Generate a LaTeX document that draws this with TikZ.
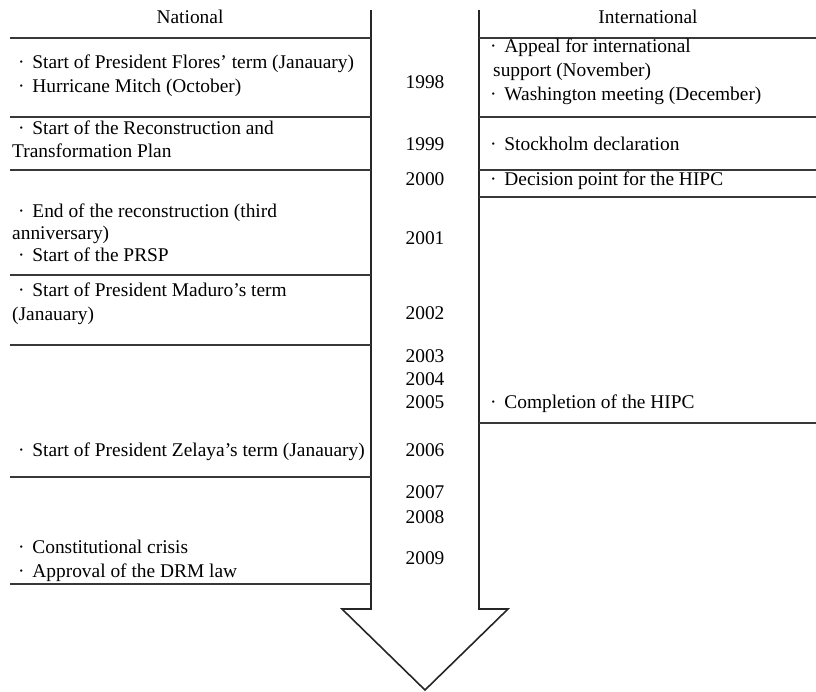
\documentclass[tikz,border=0pt]{standalone}
\usepackage{fontspec}
\setmainfont{Liberation Serif}
\newcommand{\bul}{\textperiodcentered\hspace{0.4em}}
\begin{document}
\begin{tikzpicture}[x=1pt,y=-1pt,
  txt/.style={anchor=mid west, inner sep=0pt, font=\fontsize{19.4}{24}\selectfont},
  hdr/.style={anchor=mid, inner sep=0pt, font=\fontsize{19.4}{24}\selectfont},
  yr/.style={anchor=mid, inner sep=0pt, font=\fontsize{19.4}{24}\selectfont},
  rule/.style={line width=1.6pt, draw=black!78},
  arrowline/.style={line width=1.6pt, draw=black!85, line join=miter}]
\useasboundingbox (0,0) rectangle (816,691);

% big arrow (time axis)
\coordinate (a1) at (371,10);
\coordinate (a2) at (371,609);
\coordinate (a3) at (342,609);
\coordinate (a4) at (425,690);
\coordinate (a5) at (508,609);
\coordinate (a6) at (479,609);
\coordinate (a7) at (479,10);
\draw[arrowline] (a1) -- (a2) -- (a3) -- (a4) -- (a5) -- (a6) -- (a7);

% headers
\node[hdr] (nat) at (190,21) {National};
\node[hdr] (intl) at (648,21) {International};

% left rules
\foreach \y/\n in {38/l0,117/l1,170/l2,275/l3,345/l4,477/l5,584/l6}{
  \coordinate (\n a) at (10,\y); \coordinate (\n b) at (371,\y);
  \draw[rule] (\n a) -- (\n b);
}
% right rules
\foreach \y/\n in {38/r0,117/r1,170/r2,197/r3,423/r4}{
  \coordinate (\n a) at (479,\y); \coordinate (\n b) at (816,\y);
  \draw[rule] (\n a) -- (\n b);
}

% national texts
\node[txt] (n1) at (18,66) {\bul Start of President Flores' term (Janauary)};
\node[txt] (n2) at (18,90) {\bul Hurricane Mitch (October)};
\node[txt] (n3) at (18,132) {\bul Start of the Reconstruction and};
\node[txt] (n4) at (12,155) {Transformation Plan};
\node[txt] (n5) at (18,215) {\bul End of the reconstruction (third};
\node[txt] (n6) at (12,237) {anniversary)};
\node[txt] (n7) at (18,259) {\bul Start of the PRSP};
\node[txt] (n8) at (18,294) {\bul Start of President Maduro's term};
\node[txt] (n9) at (12,318) {(Janauary)};
\node[txt] (n10) at (18,454) {\bul Start of President Zelaya's term (Janauary)};
\node[txt] (n11) at (18,551) {\bul Constitutional crisis};
\node[txt] (n12) at (18,575) {\bul Approval of the DRM law};

% years
\node[yr] (y98) at (425,86) {1998};
\node[yr] (y99) at (425,148) {1999};
\node[yr] (y00) at (425,183) {2000};
\node[yr] (y01) at (425,242) {2001};
\node[yr] (y02) at (425,317) {2002};
\node[yr] (y03) at (425,360) {2003};
\node[yr] (y04) at (425,383) {2004};
\node[yr] (y05) at (425,406) {2005};
\node[yr] (y06) at (425,454) {2006};
\node[yr] (y07) at (425,496) {2007};
\node[yr] (y08) at (425,521) {2008};
\node[yr] (y09) at (425,562) {2009};

% international texts
\node[txt] (i1) at (490,50) {\bul Appeal for international};
\node[txt] (i2) at (493,74) {support (November)};
\node[txt] (i3) at (490,98) {\bul Washington meeting (December)};
\node[txt] (i4) at (490,148) {\bul Stockholm declaration};
\node[txt] (i5) at (490,183) {\bul Decision point for the HIPC};
\node[txt] (i6) at (490,406) {\bul Completion of the HIPC};
\end{tikzpicture}
\end{document}
